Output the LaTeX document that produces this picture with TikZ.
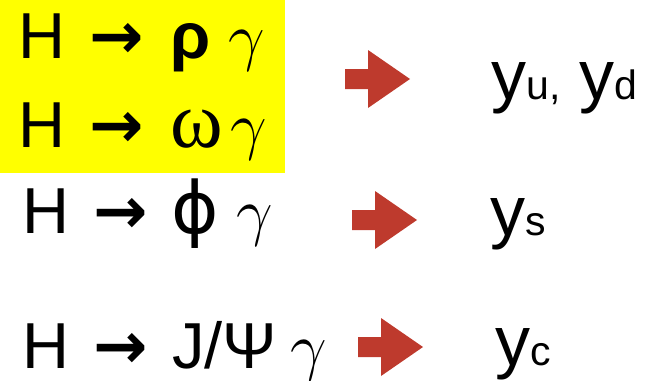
\RequirePackage{fix-cm}
\documentclass[tikz,border=0pt]{standalone}
\usepackage{fontspec}
\setmainfont{Liberation Sans}
\newfontfamily\greekserif{Liberation Serif}
\newfontfamily\symsans{DejaVu Sans}
\usetikzlibrary{positioning}
\definecolor{hiyellow}{RGB}{255,255,0}
\definecolor{arrowred}{RGB}{190,58,45}
\newcommand\flav[1]{{\fontsize{41bp}{45bp}\selectfont #1}}
\newcommand\photon{$\gamma$}
\newcommand\yields{{\symsans\bfseries →}}

\tikzset{
  redarrow/.pic={\fill[arrowred] (0,-10) -- (23,-10) -- (23,-29) -- (65,0)
    -- (23,29) -- (23,10) -- (0,10) -- cycle;}
}

\begin{document}
\begin{tikzpicture}[x=1bp,y=1bp,
  tok/.style={anchor=base west,inner sep=0pt,font=\fontsize{65bp}{70bp}\selectfont},
  lbl/.style={anchor=base west,inner sep=0pt,font=\fontsize{70bp}{75bp}\selectfont}]
\useasboundingbox (0,0) rectangle (649,380);
\fill[hiyellow] (0,207) rectangle (285,380);

% rho and omega
\node[tok] (h1)   at (18,322)  {H};
\node[tok] (to1)  at (89,322)  {\yields};
\node[tok] (rho)  at (170,322) {\bfseries ρ};
\node[tok] (g1)   at (228,322) {\photon};
\node[tok] (h2)   at (18,233)  {H};
\node[tok] (to2)  at (89,233)  {\yields};
\node[tok,font=\fontsize{80bp}{80bp}\selectfont] (omg) at (170,233) {\greekserif ω};
\node[tok] (g2)   at (230,233) {\photon};
\pic at (345,301) {redarrow};
\node[lbl] (yud)  at (491,281) {y\flav{u,} y\flav{d}};

% phi
\node[tok] (h3)   at (22,147)  {H};
\node[tok] (to3)  at (93,147)  {\yields};
\node[tok,font=\fontsize{72bp}{72bp}\selectfont] (phi) at (171,147) {\symsans ϕ};
\node[tok] (g3)   at (236,147) {\photon};
\pic at (352,160) {redarrow};
\node[lbl] (ys)   at (490,145) {y\flav{s}};

% J/psi
\node[tok] (h4)   at (22,12)   {H};
\node[tok] (to4)  at (93,12)   {\yields};
\node[tok] (jpsi) at (172,12)  {J/Ψ};
\node[tok] (g4)   at (290,12)  {\photon};
\pic at (358,33) {redarrow};
\node[lbl] (yc)   at (495,15)  {y\flav{c}};
\end{tikzpicture}
\end{document}
